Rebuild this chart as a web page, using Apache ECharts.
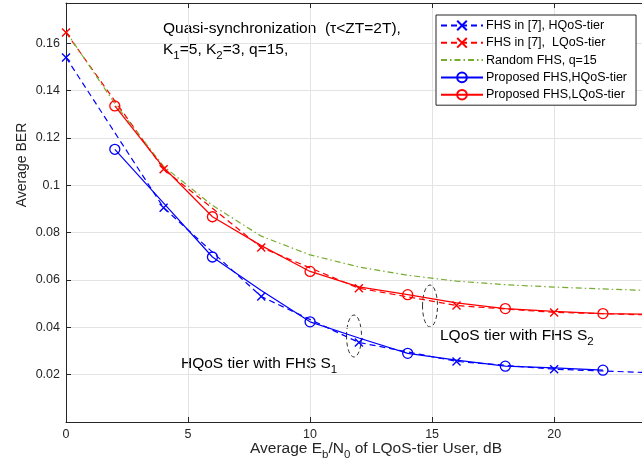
<!DOCTYPE html>
<html><head><meta charset="utf-8">
<script src="https://cdn.jsdelivr.net/npm/echarts@6/dist/echarts.min.js"></script>
<style>html,body{margin:0;padding:0;background:#fff}#c{width:642px;height:465px}</style>
</head><body><div id="c"></div>
<script>
// ---- data ----
const fhs7HX = [0, 4, 8, 12, 16, 20, 24];
const fhs7HY = [0.154, 0.0905, 0.053, 0.0336, 0.0256, 0.0223, 0.0208];
const fhs7LX = [0, 4, 8, 12, 16, 20, 24];
const fhs7LY = [0.1645, 0.1068, 0.0737, 0.0565, 0.0492, 0.0463, 0.0452];
const randX = [0, 2, 4, 6, 8, 10, 12, 14, 16, 18, 20, 22, 24];
const randY = [0.165, 0.1345, 0.108, 0.0915, 0.0785, 0.0706, 0.0655, 0.062, 0.0595, 0.058, 0.057, 0.0562, 0.0555];
const propHX = [2, 4, 6, 8, 10, 12, 14, 16, 18, 20, 22];
const propHY = [0.1152, 0.0925, 0.0697, 0.0555, 0.0423, 0.0355, 0.029, 0.0261, 0.0236, 0.0229, 0.0219];
const propLX = [2, 4, 6, 8, 10, 12, 14, 16, 18, 20, 22, 24];
const propLY = [0.1335, 0.1075, 0.0867, 0.0745, 0.0636, 0.0571, 0.0538, 0.0503, 0.0479, 0.0467, 0.0458, 0.0455];
const propMarkX = [2, 6, 10, 14, 18, 22];
const names = ['FHS in [7], HQoS-tier', 'FHS in [7],  LQoS-tier', 'Random FHS, q=15', 'Proposed FHS,HQoS-tier', 'Proposed FHS,LQoS-tier'];
const xTicks = [0, 5, 10, 15, 20];
const yTicks = [0.02, 0.04, 0.06, 0.08, 0.1, 0.12, 0.14, 0.16];

const FONT = 'Liberation Sans';
const TXT = '#262626';
const crossPath = 'path://M0,0L10,10M10,0L0,10';

function lineSeries(name, x, y, color, dash, sym, markX) {
  const data = x.map((v, i) => {
    const it = { value: [v, y[i]] };
    if (markX && !markX.includes(v)) it.symbol = 'none';
    return it;
  });
  const s = {
    name, type: 'line', data, clip: true,
    lineStyle: { color, width: 1.2, type: dash },
    itemStyle: { color, borderColor: color, borderWidth: 1.4 },
    symbol: 'none', showSymbol: true, animation: false, z: 3
  };
  if (sym === 'x') { s.symbol = crossPath; s.symbolSize = 8; }
  if (sym === 'o') { s.symbol = 'circle'; s.symbolSize = 10; s.itemStyle.color = 'rgba(0,0,0,0)'; s.itemStyle.borderWidth = 1.3; }
  return s;
}

const chart = echarts.init(document.getElementById('c'), null, { renderer: 'canvas' });
const axisCommon = {
  type: 'value', min: 0, interval: 5, max: 23.6,
  axisLine: { show: true, lineStyle: { color: '#262626', width: 1 } },
  axisTick: { show: true, inside: true, length: 5, lineStyle: { color: '#262626' } },
};
const big = '15.5px "' + FONT + '"';
const sub = '11.5px "' + FONT + '"';
function richText(str, fill) {
  return { n: { font: big, fill }, s: { font: sub, fill, padding: [12, 0, 0, 0] } };
}
chart.setOption({
  animation: false,
  textStyle: { fontFamily: FONT },
  grid: { left: 66, right: 0, top: 3, bottom: 43 },
  xAxis: [
    Object.assign({}, axisCommon, {
      position: 'bottom',
      axisLabel: { color: TXT, fontSize: 12.5, fontFamily: FONT, margin: 6, showMaxLabel: false,
        formatter: v => xTicks.includes(v) ? String(v) : '' },
      splitLine: { show: true, lineStyle: { color: '#e3e3e3', width: 1 } }
    }),
    Object.assign({}, axisCommon, {
      position: 'top',
      axisLabel: { show: false },
      splitLine: { show: false }
    })
  ],
  yAxis: {
    type: 'value', min: 0, max: 0.177, interval: 0.02,
    axisLine: { show: true, lineStyle: { color: '#262626', width: 1 } },
    axisTick: { show: true, inside: true, length: 5, lineStyle: { color: '#262626' } },
    axisLabel: { color: TXT, fontSize: 12.5, fontFamily: FONT, margin: 6, showMaxLabel: false,
      formatter: v => { const t = yTicks.find(k => Math.abs(k - v) < 1e-9); return t === undefined ? '' : String(t); } },
    splitLine: { show: true, lineStyle: { color: '#e3e3e3', width: 1 } }
  },
  legend: {
    orient: 'vertical', left: 436, top: 15,
    backgroundColor: '#fff', borderColor: '#262626', borderWidth: 1,
    padding: [4, 9, 4, 4], itemGap: 4.3, itemWidth: 42, itemHeight: 12,
    textStyle: { color: '#000', fontSize: 12.5, fontFamily: FONT, padding: [0, 0, 0, -2] },
    data: names.map((n, i) => i === 2 ? { name: n, itemStyle: { opacity: 0 } } : n)
  },
  series: [
    lineSeries(names[0], fhs7HX, fhs7HY, '#0000ff', [6, 4], 'x'),
    lineSeries(names[1], fhs7LX, fhs7LY, '#ff0000', [6, 4], 'x'),
    lineSeries(names[2], randX, randY, '#77ac30', [6, 3, 1.5, 3], null),
    lineSeries(names[3], propHX, propHY, '#0000ff', 'solid', 'o', propMarkX),
    lineSeries(names[4], propLX, propLY, '#ff0000', 'solid', 'o', propMarkX)
  ],
  graphic: [
    { type: 'text', left: 163, top: 21, style: { text: 'Quasi-synchronization  (\u03c4<ZT=2T),', font: big, fill: '#000' } },
    { type: 'text', left: 163, top: 42, style: { text: '{n|K}{s|1}{n|=5, K}{s|2}{n|=3, q=15,}', rich: richText(null, '#000') } },
    { type: 'text', left: 181, top: 356, style: { text: '{n|HQoS tier with FHS S}{s|1}', rich: richText(null, '#000') } },
    { type: 'text', left: 440, top: 328, style: { text: '{n|LQoS tier with FHS S}{s|2}', rich: richText(null, '#000') } },
    { type: 'ellipse', shape: { cx: 354, cy: 336, rx: 7.5, ry: 21 }, style: { fill: 'none', stroke: '#333', lineWidth: 1, lineDash: [4, 3] } },
    { type: 'ellipse', shape: { cx: 430, cy: 306, rx: 7.5, ry: 21 }, style: { fill: 'none', stroke: '#333', lineWidth: 1, lineDash: [4, 3] } },
    { type: 'text', x: 22, y: 165, rotation: Math.PI / 2, style: { text: 'Average BER', font: '14px "' + FONT + '"', fill: TXT, align: 'center', verticalAlign: 'middle' } },
    { type: 'text', left: 250, top: 441, style: { text: '{n|Average E}{s|b}{n|/N}{s|0}{n| of LQoS-tier User, dB}', rich: richText(null, TXT) } }
  ]
});
</script></body></html>
